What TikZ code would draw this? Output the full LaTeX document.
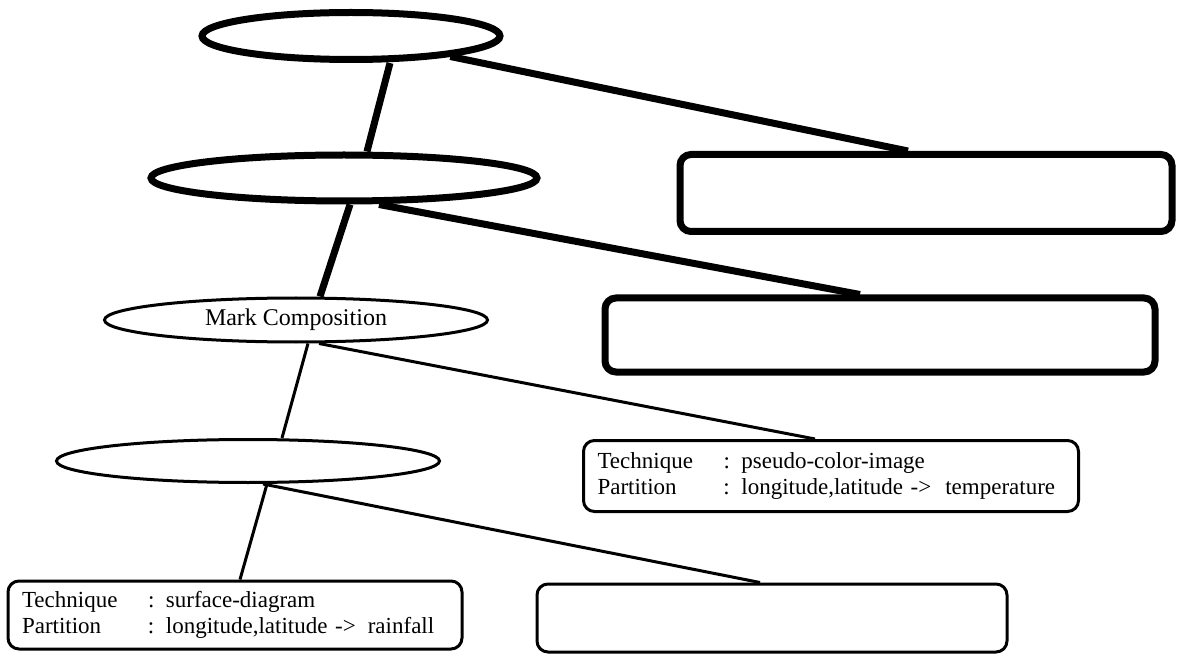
\documentclass[tikz,border=0pt]{standalone}
\usepackage{fontspec}
\setmainfont{Liberation Serif}
\usetikzlibrary{shapes.geometric}
\tikzset{
  oval/.style={ellipse, draw, line width=3pt, inner sep=0pt},
  heavyoval/.style={oval, line width=7pt},
  infobox/.style={draw, rounded corners=11pt, line width=3pt, inner xsep=14pt, inner ysep=0pt, align=left},
  heavybox/.style={infobox, line width=7pt},
  link/.style={line width=3pt},
  heavylink/.style={line width=7pt}
}
\newcommand{\entry}[2]{\makebox[126pt][l]{#1}: #2}

\begin{document}
\begin{tikzpicture}[x=1pt, y=-1pt, font=\fontsize{23}{26}\selectfont]
        \useasboundingbox (0,0) rectangle (1179,655);
        % ovals
        \node[heavyoval, minimum width=298pt, minimum height=47pt] (top) at (351,36) {};
        \node[heavyoval, minimum width=386pt, minimum height=46pt] (second) at (344,178) {};
        \node[oval, minimum width=383pt, minimum height=44pt, font=\fontsize{24}{28}\selectfont] (mark) at (296,320) {Mark Composition};
        \node[oval, minimum width=383pt, minimum height=43pt] (fourth) at (248,461) {};
        % boxes
        \node[heavybox, minimum width=492pt, minimum height=77pt] (boxa) at (926,193) {};
        \node[heavybox, minimum width=550pt, minimum height=74pt] (boxb) at (880,335) {};
        \node[infobox, text width=467pt, minimum height=71pt] (boxc) at (831,476)
            {\entry{Technique}{pseudo-color-image}\\
             \entry{Partition}{longitude,latitude ->\hspace{14pt}temperature}};
        \node[infobox, text width=426pt, minimum height=68pt] (boxd) at (235,615)
            {\entry{Technique}{surface-diagram}\\
             \entry{Partition}{longitude,latitude ->\hspace{12pt}rainfall}};
        \node[infobox, minimum width=470pt, minimum height=68pt] (boxe) at (772,618) {};
        % spine
        \draw[heavylink] ([xshift=39pt]top.south) -- ([xshift=23pt]second.north);
        \draw[heavylink] ([xshift=6pt]second.south) -- ([xshift=24pt]mark.north);
        \draw[link] ([xshift=12pt]mark.south) -- ([xshift=34pt]fourth.north);
        \draw[link] ([xshift=19pt]fourth.south) -- ([xshift=5pt]boxd.north);
        % branches
        \draw[heavylink] (top) -- ([xshift=-18pt]boxa.north);
        \draw[heavylink] ([xshift=35pt]second.south) -- ([xshift=-20pt]boxb.north);
        \draw[link] ([xshift=23pt]mark.south) -- ([xshift=-16pt]boxc.north);
        \draw[link] ([xshift=15pt]fourth.south) -- ([xshift=-12pt]boxe.north);
\end{tikzpicture}
\end{document}
